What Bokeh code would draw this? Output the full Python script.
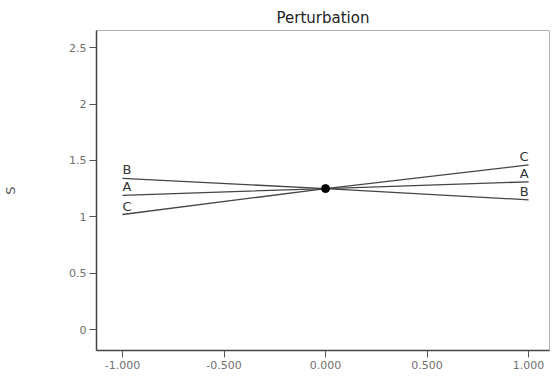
from bokeh.plotting import figure
from bokeh.models import FixedTicker, ColumnDataSource, Range1d
from bokeh.core.properties import value
from bokeh.embed import file_html
from bokeh.resources import INLINE

# Data
deviation = [-1.0, 0.0, 1.0]
factors = ["A", "B", "C"]
series = {
    "A": [1.19, 1.25, 1.31],
    "B": [1.34, 1.25, 1.15],
    "C": [1.02, 1.25, 1.46],
}
ref_point = [0.0]
ref_value = [1.25]
x_ticks = [-1.0, -0.5, 0.0, 0.5, 1.0]
x_tick_labels = ["-1.000", "-0.500", "0.000", "0.500", "1.000"]
y_ticks = [0, 0.5, 1, 1.5, 2, 2.5]
y_tick_labels = ["0", "0.5", "1", "1.5", "2", "2.5"]

FONT = "DejaVu Sans"
LINE = "#454545"

p = figure(frame_width=453, frame_height=320, output_backend="svg",
           toolbar_location=None, x_range=Range1d(-1.128, 1.103),
           y_range=Range1d(-0.186, 2.652), title="Perturbation",
           min_border_left=96, min_border_right=2, min_border_top=30,
           min_border_bottom=29)

p.title.align = "center"
p.title.text_font = FONT
p.title.text_font_size = "15px"
p.title.text_font_style = "normal"
p.title.text_color = "#222222"
p.title.standoff = 7

p.grid.visible = False
p.outline_line_color = "#b0b0b0"
p.background_fill_color = "white"
p.border_fill_color = "white"

for ax in (p.xaxis[0], p.yaxis[0]):
    ax.axis_line_color = "#444444"
    ax.axis_line_width = 1.5
    ax.major_tick_line_color = "#555555"
    ax.major_tick_in = 0
    ax.major_tick_out = 7
    ax.minor_tick_line_color = None
    ax.major_label_text_font = FONT
    ax.major_label_text_font_size = "11px"
    ax.major_label_text_color = "#707070"
    ax.major_label_standoff = 3

p.xaxis[0].ticker = FixedTicker(ticks=x_ticks)
p.xaxis[0].major_label_overrides = {t: l for t, l in zip(x_ticks, x_tick_labels)}
p.yaxis[0].ticker = FixedTicker(ticks=y_ticks)
p.yaxis[0].major_label_overrides = {t: l for t, l in zip(y_ticks, y_tick_labels)}
p.yaxis[0].axis_label = "S"
p.yaxis[0].axis_label_text_font = FONT
p.yaxis[0].axis_label_text_font_size = "13px"
p.yaxis[0].axis_label_text_font_style = "normal"
p.yaxis[0].axis_label_text_color = "#555555"
p.yaxis[0].axis_label_standoff = 48

for f in factors:
    p.line(deviation, series[f], line_color=LINE, line_width=1.3)

left_src = ColumnDataSource(dict(x=[deviation[0]] * 3, y=[series[f][0] for f in factors], t=factors))
right_src = ColumnDataSource(dict(x=[deviation[-1]] * 3, y=[series[f][-1] for f in factors], t=factors))
p.text(x="x", y="y", text="t", source=left_src, text_align="left",
       text_baseline="bottom", y_offset=-1, text_font=value(FONT),
       text_font_size="13px", text_color="#333333")
p.text(x="x", y="y", text="t", source=right_src, text_align="right",
       text_baseline="bottom", y_offset=-1, text_font=value(FONT),
       text_font_size="13px", text_color="#333333")

p.scatter(ref_point, ref_value, size=8, color="black")

open("out.html", "w").write(file_html(p, INLINE))
